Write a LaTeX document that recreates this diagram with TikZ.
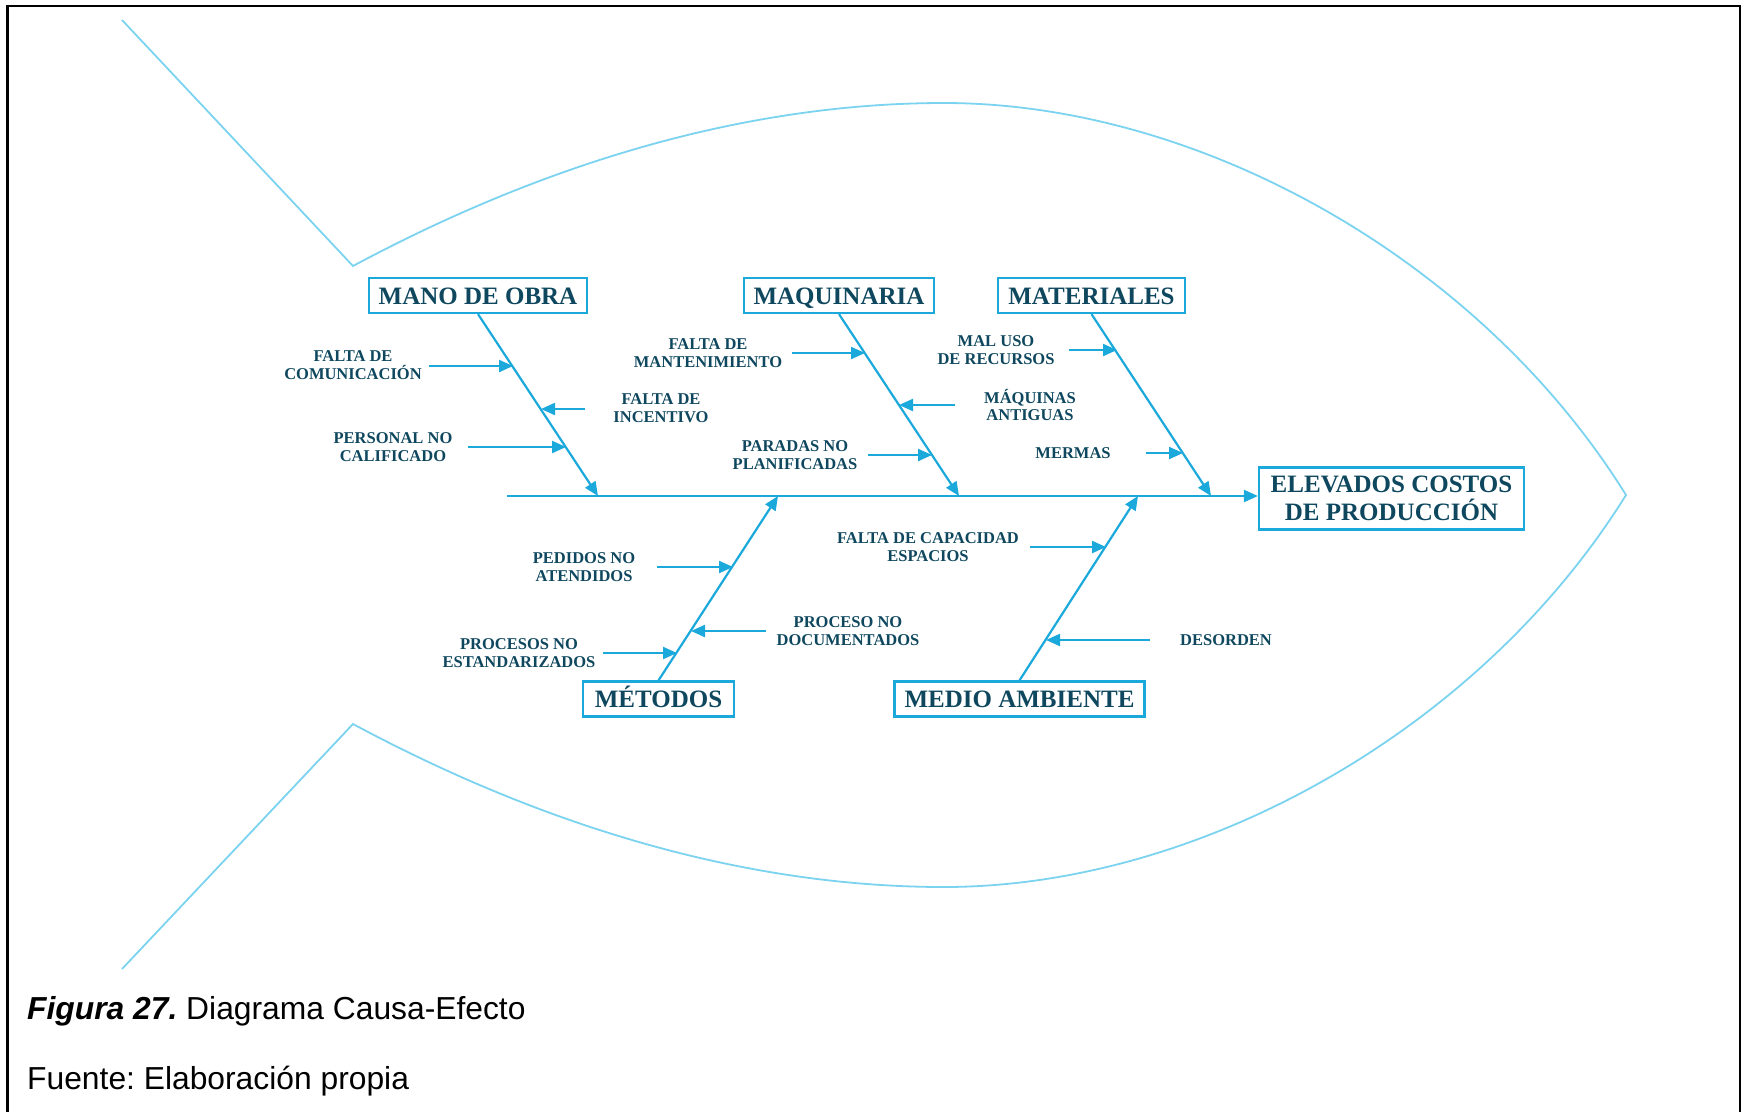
\documentclass[tikz,border=0pt]{standalone}
\usepackage{fontspec}
\setmainfont{Liberation Serif}
\newfontfamily\capfont{Liberation Sans}
\usetikzlibrary{arrows.meta}
\definecolor{txt}{HTML}{0E475E}
\definecolor{bone}{HTML}{1BA8DB}
\definecolor{fishc}{HTML}{7BD3F0}
\frenchspacing
\begin{document}
\begin{tikzpicture}[x=1pt,y=-1pt,
  cat/.style={draw=bone, line width=2.2pt, text=txt, font=\bfseries\fontsize{25}{28}\selectfont, inner sep=0pt, minimum height=35pt, text height=17pt, text depth=0pt},
  cause/.style={text=txt, font=\bfseries\fontsize{16.5}{17.5}\selectfont, align=center, inner sep=0pt},
  arr/.style={draw=bone, line width=2.2pt, -{Triangle[length=14pt,width=12pt]}},
  fish/.style={draw=fishc, line width=1.8pt},
  captext/.style={anchor=base west, inner sep=0pt, font=\capfont\fontsize{31.8}{34}\selectfont}]
\useasboundingbox (0,0) rectangle (1741,1112);

% frame
\draw[line width=2.5pt] (7.5,1112) -- (7.5,6) -- (1740,6) -- (1740,1112);

% fish outline: tail and body
\draw[fish] (122,20) -- (353,266)
  .. controls (560,155) and (760,103) .. (944,103)
  .. controls (1200,103) and (1480,260) .. (1626,495)
  .. controls (1480,730) and (1200,887) .. (944,887)
  .. controls (760,887) and (560,835) .. (353,724) -- (122,969);

% effect and categories
\node[draw=bone, line width=2.2pt, text=txt, inner sep=0pt, minimum width=265pt, minimum height=62pt, align=center, font=\bfseries\fontsize{25}{28.5}\selectfont] (eff) at (1391.5,498.5) {ELEVADOS COSTOS\\DE PRODUCCIÓN};
\node[cat, minimum width=218pt] (mano) at (478,295.5) {MANO DE OBRA};
\node[cat, minimum width=190pt] (maq) at (839,295.5) {MAQUINARIA};
\node[cat, minimum width=187pt] (mat) at (1091.5,295.5) {MATERIALES};
\node[cat, minimum width=151pt] (met) at (658.5,699) {MÉTODOS};
\node[cat, minimum width=250pt] (med) at (1019.5,699) {MEDIO AMBIENTE};

% spine
\coordinate (tail) at (507,496);
\draw[arr] (tail) -- (tail -| eff.west);

% bones
\coordinate (j1) at (598,496);
\coordinate (j2) at (959,496);
\coordinate (j3) at (1211,496);
\coordinate (j4) at (778,496);
\coordinate (j5) at (1138,496);
\draw[arr] (mano.south) -- (j1);
\draw[arr] (maq.south) -- (j2);
\draw[arr] (mat.south) -- (j3);
\draw[arr] (met.north) -- (j4);
\draw[arr] (med.north) -- (j5);

% causes: labels
\node[cause] (c1) at (353,365) {FALTA DE\\COMUNICACIÓN};
\node[cause] (c2) at (661,408) {FALTA DE\\INCENTIVO};
\node[cause] (c3) at (393,447) {PERSONAL NO\\CALIFICADO};
\node[cause] (c4) at (708,353) {FALTA DE\\MANTENIMIENTO};
\node[cause] (c5) at (1030,405) {MÁQUINAS\\ANTIGUAS};
\node[cause] (c6) at (795,455) {PARADAS NO\\PLANIFICADAS};
\node[cause] (c7) at (996,350) {MAL USO\\DE RECURSOS};
\node[cause] (c8) at (1073,453) {MERMAS};
\node[cause] (c9) at (584,567) {PEDIDOS NO\\ATENDIDOS};
\node[cause] (c10) at (848,631) {PROCESO NO\\DOCUMENTADOS};
\node[cause] (c11) at (519,653) {PROCESOS NO\\ESTANDARIZADOS};
\node[cause] (c12) at (928,547) {FALTA DE CAPACIDAD\\ESPACIOS};
\node[cause] (c13) at (1226,640) {DESORDEN};

% causes: arrow ends
\coordinate (a1) at (429,366);  \coordinate (b1) at (513,366);
\coordinate (a2) at (585,409);  \coordinate (b2) at (541,409);
\coordinate (a3) at (468,447);  \coordinate (b3) at (566,447);
\coordinate (a4) at (792,353);  \coordinate (b4) at (865,353);
\coordinate (a5) at (955,405);  \coordinate (b5) at (899,405);
\coordinate (a6) at (868,455);  \coordinate (b6) at (932,455);
\coordinate (a7) at (1069,350); \coordinate (b7) at (1117,350);
\coordinate (a8) at (1146,453); \coordinate (b8) at (1183,453);
\coordinate (a9) at (657,567);  \coordinate (b9) at (733,567);
\coordinate (a10) at (766,631); \coordinate (b10) at (691,631);
\coordinate (a11) at (603,653); \coordinate (b11) at (677,653);
\coordinate (a12) at (1030,547);\coordinate (b12) at (1106,547);
\coordinate (a13) at (1150,640);\coordinate (b13) at (1046,640);
\foreach \i in {1,...,13} { \draw[arr] (a\i) -- (b\i); }

% caption
\node[captext] (cap1) at (27,1019) {\textbf{\textit{Figura 27.}} Diagrama Causa-Efecto};
\node[captext] (cap2) at (27,1089) {Fuente: Elaboración propia};
\end{tikzpicture}
\end{document}
